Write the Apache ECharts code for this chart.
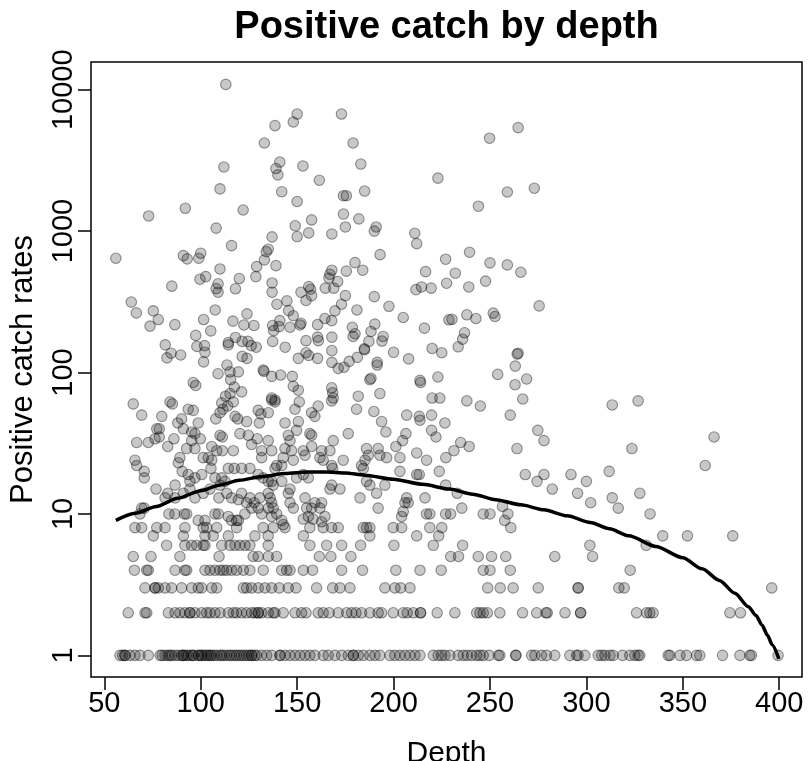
<!DOCTYPE html>
<html><head><meta charset="utf-8">
<script src="https://cdn.jsdelivr.net/npm/echarts@6/dist/echarts.min.js"></script>
<style>html,body{margin:0;padding:0;background:#fff}#chart{width:809px;height:761px}</style>
</head><body><div id="chart"></div>
<script>
const titleText = 'Positive catch by depth';
const xName = 'Depth';
const yName = 'Positive catch rates';
const xTicks = [50, 100, 150, 200, 250, 300, 350, 400];
const yTicks = [1, 10, 100, 1000, 10000];

// scattered observations [depth, positive catch rate], catch >= ~90
const pointsHigh = [[113,10900],[150,6730],[148,5910],[173,6730],[138.5,5570],[133,4200],[179,4200],[112,2840],[141,3080],[139,2770],[140,2500],[153,2890],[183,2980],[161.5,2290],[223,2370],[110,1990],[142,1900],[150,1620],[174,1780],[175.5,1780],[185,1920],[92,1450],[73,1280],[122,1410],[108,1050],[174,1320],[157.5,1200],[149,1090],[150,915],[156,971],[168,955],[175,1070],[182,1220],[190,1000],[191,1070],[211,966],[212,816],[137,910],[116,790],[56,643],[91,671],[93,636],[100,698],[99,643],[135,745],[134,716],[133,626],[129,561],[128.6,477],[139,570],[193,682],[227,633],[180,599],[184,529],[175.5,521],[168,529],[167,496],[166.5,465],[171,440],[169,395],[164.6,395],[216.6,517],[110,540],[102.6,477],[99.6,457],[120,462],[109,424],[108,392],[109,370],[118,391],[85,408],[137,430],[137,370],[156,405],[157,388],[152,370],[157.5,350],[154.6,323],[211.6,386],[214.5,403],[219.5,395],[227.5,428],[190,344],[197.6,294],[175,350],[173,304],[169.6,273],[181,277],[205,245],[216,206],[228.7,236],[144.7,321],[145.6,274],[148,252],[152,223],[139.5,304],[107.5,277],[124,260],[64,315],[66.6,264],[75.4,273],[78,237],[73.7,213],[86.6,218],[101.5,237],[105.2,197],[116.7,231],[122.4,217],[127.6,215],[137.3,215],[141,233],[140.6,211],[137.8,198],[146.3,209],[151.5,217],[160.6,218],[164.4,241],[167.9,233],[178.6,209],[180,188],[179,180],[190.3,220],[188.3,195],[187.2,166],[184.8,147],[194.6,180],[194,167],[200,139],[207.8,125],[220,148],[225,138],[160.6,178],[161,168],[168,178],[168,143],[154.6,168],[154.6,138],[156,132],[150.6,126],[160.6,126],[143.8,151],[137.3,166],[168,118],[171.3,107],[174.3,109],[177,120],[181.2,128],[185,145],[191.5,118],[191.5,113],[124.5,166],[114.3,163],[114.3,157],[118,177],[121.5,166],[126.2,155],[128.8,151],[121.5,130],[124,126],[113.6,113],[115.2,101],[119.5,101],[109,98],[132.4,104],[132.8,102],[101.5,119],[97.4,183],[98,153],[102,155],[102.2,139],[81.6,157],[84.6,137],[82.5,127],[89.6,133],[141.4,96],[136.8,94],[147.5,94],[188.3,91],[213.7,88],[223,93],[264.6,5390],[249.8,4540],[273,2010],[259,1890],[244,1500],[239.4,709],[250,596],[259,577],[266,512],[232,504],[239,403],[247.7,443],[275.5,296],[230.3,238],[238,256],[242.7,241],[251.7,263],[252.6,249],[236.8,191],[235.8,172],[233.5,152],[264.6,137],[264.1,135],[263.1,111],[254,97],[269,90]];

// scattered observations, catch roughly 9 to 90
const pointsMid = [[263,82],[220,66],[224,66],[238,63],[245,58],[267,65],[260.5,50],[313.4,59],[326.8,63],[219.7,50],[226.6,44],[219.7,39],[222,35],[234.8,32],[231.3,28],[239.2,30],[264,29],[274.8,39],[278,33],[323.6,29],[366.2,35],[361.6,22],[311.8,20],[268.3,19],[274.4,17],[278,19],[282.3,15],[292,19],[300,17],[295.4,14],[302.2,12],[313.4,13],[316.5,11],[327.7,14],[333,10],[223.7,20],[227,16],[233,14],[235.4,11],[227,10],[229.6,10],[246.5,10],[250,10],[256.5,11.3],[259.3,10],[257.6,9],
[96.1,85],[97.4,81],[115.5,89],[117.4,79],[121.2,73],[112.9,68],[115.2,71],[116.9,62],[114,58],[110.9,61],[65,60],[69.4,50],[79.8,49],[84.1,62],[85.3,60],[93.5,55],[96.1,54],[90.1,47],[88.1,44],[91,40],[98.7,44],[107.8,47],[110,52],[111.5,55],[117.8,49],[119.2,47],[123.8,45],[129.8,54],[131.2,51],[135,52],[136.8,64],[138.5,62],[130.4,44],[77.2,40],[78.5,40],[76.3,34],[78.5,35],[72.8,32],[66.8,32],[86.1,34],[82.9,30],[95.3,33],[92.7,29],[97,29],[95.3,38],[97,37],[99.8,34],[105.7,30],[108.3,28],[111.2,28],[110,36],[111.2,35],[116.9,28],[120.3,37],[124.7,36],[129.3,34],[126.4,31],[131.6,28],[135,33],[131.6,25],[65.9,24],[66.8,22],[70.7,20],[70.7,18],[76.8,15],[89.2,25],[88.4,23],[101.3,25],[103.9,25],[105.7,24],[90.4,20],[93.5,19],[94.4,17],[97,18],[100.5,19],[105.3,21],[110.9,18],[112.6,17],[107.4,18],[114.3,21],[117.4,21],[121.2,21],[125.5,21],[129.8,19],[132.4,18],[135,17],[86.7,16],[82.9,14],[86.7,13],[81.5,13],[91,14],[94.4,15],[97,13],[101.3,14],[104.8,15],[110,16],[109.4,13],[113.5,14],[116,13],[119.5,12.6],[121.2,14],[123.8,12],[125.5,13],[127.8,12],[130.7,13],[135,14],[69.4,11],[70.7,11],[68.5,10],[83.5,10],[86.6,10],[91.5,10],[92.7,10],[98.7,9],[102.2,9],[107.4,10],[109.1,10],[114.3,9.6],[116,9],[118.6,9],[119.5,9],[122.9,10],[126.4,11],[129.8,11],[131.6,10],[135,11]];

const pointsCenter = [[148,80],[150.6,75],[136.8,66],[138.5,64],[151.1,62],[148.9,55],[167.9,78],[168.4,72],[168.7,66],[167.9,63],[160.9,58],[157.5,52],[159.2,49],[187.7,89],[192.9,71],[181.7,68],[180.8,55],[189.8,53],[214,85],[206.8,50],[213.3,49],[213.7,46],[193.8,45],[196,38],[143.7,44],[150.6,45],[149.7,39],[145.4,36],[146.3,33],[156.6,37],[157.5,36],[136.8,28],[176.5,37],[168.7,33],[167,28],[162.7,28],[161.8,25],[163.5,24],[143.7,29],[142.8,25],[147.1,28],[148,24],[153.2,28],[154.1,26],[157.5,30],[139.4,22],[142,22],[138.5,21],[167.9,22],[168.4,21],[173.9,24],[186,29],[186.9,26],[185.2,24],[183.4,22],[184.3,21],[192,29],[192.9,26],[196.4,25],[201.2,30],[204.7,33],[206.4,37],[203.3,25],[212,27],[217.1,24],[203.3,20],[212,19],[213.3,19],[227.1,25],[136.8,17],[137.6,16],[142,17],[146.3,15],[136,13],[136.8,12],[137.6,11],[153.2,19],[155.8,18],[149.7,18],[167.9,16],[167,15],[172.2,15],[145.4,14],[146.3,12],[148,11],[154.1,13],[154.9,11],[157.5,11],[159.2,12],[161.8,11],[162.7,12],[186,17],[187.7,16],[182.6,13],[191.2,14],[195.5,16],[192,11],[206.8,13],[205.9,12],[205,10.4],[204.2,9.6],[207.6,12],[216.3,13],[217.1,10],[218.8,10],[136.8,9.6],[139.4,10],[142,9],[142.8,8.4],[153.2,9.2],[155.8,9.6],[158.3,9.2],[162.7,8.8],[164.4,9.6]];

// depths of the observations that sit on the integer catch rows 1..8
const depthsAtCatch1 = [58.1,59.5,60.7,60.7,63.3,65.9,68.5,72.8,78.9,80,81.5,83,84.1,85,86.7,88.4,90,91,91,92.5,93.5,95,96.1,96.1,98.7,99,100.5,100.5,102,103.1,104,105,105.7,107,108.3,110,110.9,112,113.5,115,116,117.5,118.6,120,121.2,122.5,123.8,125,126.4,126.4,128,129,131.6,134.2,136.8,141.1,141.1,143.7,146.3,148.9,151.5,154.1,156.6,159.2,163.5,166.1,169.6,173.1,176.5,179.1,179.1,181.7,184.3,187.7,190.3,192.9,198.1,200.7,203.3,205.9,208.5,211.1,213.7,220.6,223.1,224.9,226.6,229.2,233.5,236.1,238.2,240.5,243.1,244.8,246.5,249.6,254.3,255.1,263.4,263.4,271.6,273.3,276.7,279.3,283.6,291.4,294.9,295.7,299.2,306.1,307.9,309.6,312.2,313.9,318.7,322.5,325.1,326.8,327.7,342.4,343.3,348.5,351.9,357.1,358.8,370.6,379.6,384.7,385.6,399.4];
const depthsAtCatch2 = [62.4,71.1,72,83.2,86.7,89.2,91.8,94.4,94.4,97,100.5,103.1,104.8,107.4,110,114.3,116.9,118.6,121.2,123.8,126.4,128.1,129.8,129.8,131.6,135,137.6,138.5,142.8,148.9,152.3,154.6,160.9,163.5,166.6,171.3,175.7,178.3,180.5,183.4,187.7,192,193.8,199.8,205,207.1,210.2,214,214,222.6,231.8,243.1,244.8,246.5,248.6,255.1,266.9,274.2,279,279.7,288.9,297,297,326,331.2,332.9,334.6,374.4,379.9];
const depthsAtCatch3 = [71.1,76.3,76.3,78,81.5,84.9,90.1,95.3,98.7,100.5,105.7,108.3,122.1,123.8,126.4,129.8,133.3,136.8,140.7,145.4,149.4,160.1,168.4,172.2,177.4,195.5,200.7,203.7,208.5,248.8,255.3,262,275,295.7,295.7,316.8,319.6,396.1];
const depthsAtCatch4 = [65.6,72,72.8,86.7,91.8,92.7,102.2,104.8,107.4,110,111.7,113.5,116,118.6,122.1,125.5,132.4,142,144.6,146.3,153.2,158,173.1,183.9,201.2,213.7,224.7,246.5,250,260.5,322.7];
const depthsAtCatch5 = [65,74.2,89.2,109.5,127.2,129.8,135,139.4,161.5,167.5,177.9,229.6,233.7,243.9,250.8,258.2,283.6,303.2];
const depthsAtCatch6 = [82.3,91.8,95.3,97.9,101.3,102.2,110.9,115.2,117.8,120.3,123,125.5,135,156.6,165.3,173.1,182.9,200.2,220.6,235.8,301.8,331];
const depthsAtCatch7 = [75.4,91,102.2,106.5,114.3,128.1,135,153.2,187.7,212,223.4,339.6,352.4,375.9];
const depthsAtCatch8 = [65.9,69.4,77.2,81.5,91.8,101.3,103.1,108.3,118.6,132.4,137.6,143.7,156.6,163.5,167.9,171.3,184.3,186,187.7,199.8,204.2,218.8,225,260.8];
const rowCatchValues = [1, 2, 3, 4, 5, 6, 7, 8];

// fitted curve
const fitDepth = [56, 66, 77, 88, 100, 110, 120, 132, 144, 155, 165, 175, 185, 200, 215, 229, 241, 253, 266, 278, 290, 302, 312, 322, 336, 350, 360, 369, 377, 384, 388, 391, 394, 396.3, 399.8];
const fitCatch = [9.0, 10.1, 11.3, 12.9, 14.6, 16.0, 17.3, 18.4, 19.3, 19.8, 19.8, 19.5, 18.8, 17.6, 16.2, 15.0, 13.8, 12.6, 11.6, 10.7, 9.7, 8.7, 7.85, 7.0, 5.89, 4.9, 4.09, 3.39, 2.75, 2.21, 1.91, 1.64, 1.38, 1.19, 0.944];

const points = [].concat(pointsHigh, pointsMid, pointsCenter);
rowCatchValues.forEach(function (c, i) {
  const depths = [depthsAtCatch1, depthsAtCatch2, depthsAtCatch3, depthsAtCatch4, depthsAtCatch5, depthsAtCatch6, depthsAtCatch7, depthsAtCatch8][i];
  depths.forEach(function (d) { points.push([d, c]); });
});
const fitLine = fitDepth.map(function (d, i) { return [d, fitCatch[i]]; });

const FONT = 'Liberation Sans, Arial, sans-serif';
const chart = echarts.init(document.getElementById('chart'), null, {renderer: 'canvas'});
chart.setOption({
  animation: false,
  backgroundColor: '#ffffff',
  title: {
    text: titleText, left: 446.5, top: 9, padding: 0, textAlign: 'center',
    textStyle: {fontFamily: FONT, fontWeight: 'bold', fontSize: 38, color: '#000'}
  },
  grid: {left: 91, right: 7, top: 62, bottom: 84, containLabel: false, outerBoundsMode: 'none',
    show: true, borderColor: '#000', borderWidth: 1.5},
  xAxis: {
    type: 'value', min: 43.1, max: 411.8,
    name: xName, nameLocation: 'middle', nameGap: 62,
    nameTextStyle: {fontFamily: FONT, fontSize: 30, color: '#000'},
    axisLine: {show: false}, splitLine: {show: false},
    axisTick: {show: true, length: 13, customValues: xTicks, lineStyle: {color: '#000', width: 1.5}},
    axisLabel: {customValues: xTicks, margin: 12, fontFamily: FONT, fontSize: 29, color: '#000'}
  },
  yAxis: {
    type: 'log', logBase: 10, min: 0.703, max: 15700,
    name: yName, nameLocation: 'middle', nameGap: 52, nameRotate: 90,
    nameTextStyle: {fontFamily: FONT, fontSize: 31, color: '#000'},
    axisLine: {show: false}, splitLine: {show: false},
    axisTick: {show: true, length: 13, customValues: yTicks, lineStyle: {color: '#000', width: 1.5}},
    axisLabel: {customValues: yTicks, rotate: 90, margin: 13, fontFamily: FONT, fontSize: 29, color: '#000',
      formatter: function (v) { return String(Math.round(v)); }}
  },
  series: [
    {type: 'scatter', data: points, symbol: 'circle', symbolSize: 10.5,
      itemStyle: {color: 'rgba(0,0,0,0.27)', borderColor: 'rgba(0,0,0,0.5)', borderWidth: 1.1}},
    {type: 'line', data: fitLine, showSymbol: false, smooth: 0.25, smoothMonotone: 'x', z: 5,
      lineStyle: {color: '#000', width: 3.5}}
  ]
});
</script></body></html>
